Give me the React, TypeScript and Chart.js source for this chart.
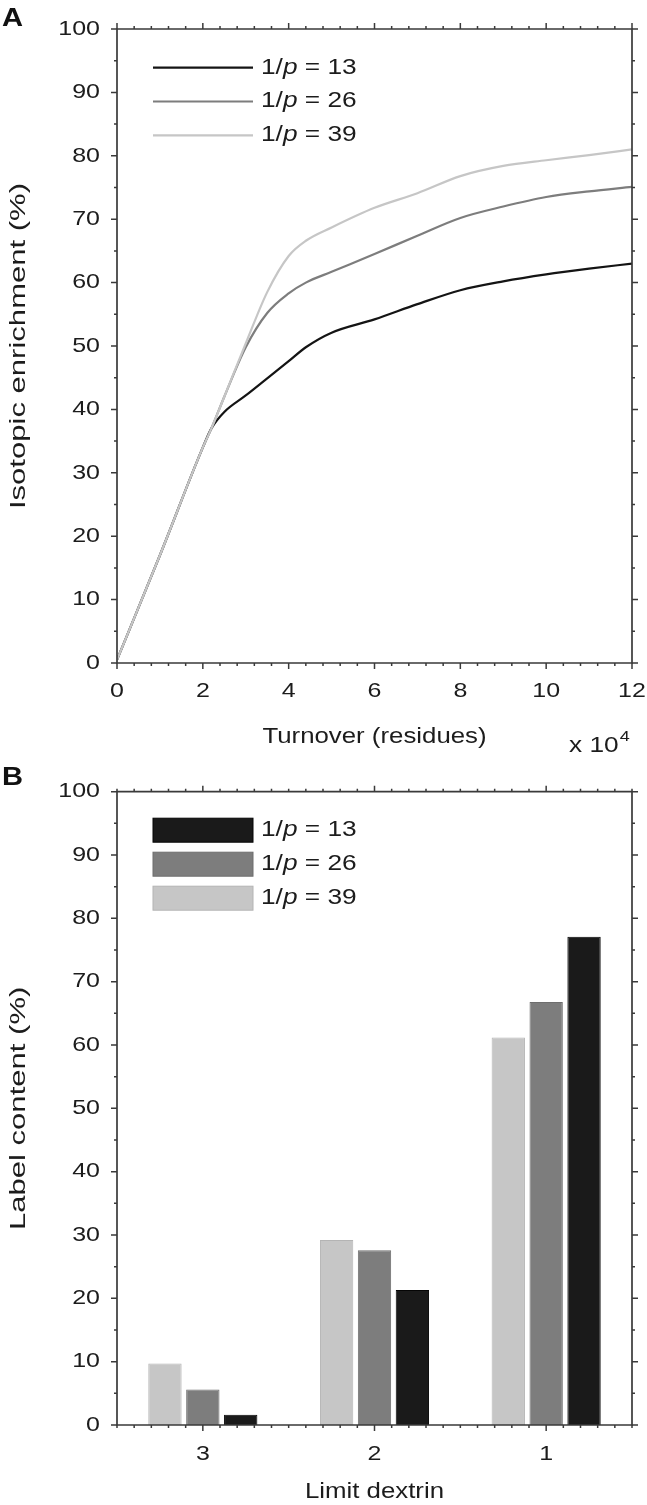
import React, { useEffect, useRef } from 'react';
import { Chart, registerables } from 'chart.js';

Chart.register(...registerables);

// ---------- data ----------
const turnover = [0, 1, 2, 2.2, 2.5, 3, 3.5, 4, 4.4, 5, 6, 7, 8, 9, 10, 11, 12];
const enrichment13 = [0.5, 17, 34, 37, 39.6, 42.2, 44.9, 47.6, 49.8, 52.1, 54.2, 56.6, 58.8, 60.2, 61.3, 62.2, 63];
const enrichment26 = [0.5, 17, 34, 37, 42, 49.8, 55.2, 58.3, 60, 61.7, 64.5, 67.4, 70.2, 72, 73.5, 74.4, 75.1];
const enrichment39 = [0.5, 17, 34, 37, 42, 50.4, 58.5, 64.2, 66.6, 68.7, 71.8, 74.1, 76.8, 78.4, 79.3, 80.1, 81];

const dextrinLabels = ['3', '2', '1'];
const content39 = [9.7, 29.2, 61.2];
const content26 = [5.6, 27.6, 66.8];
const content13 = [1.6, 21.3, 77.1];

const inversePValues = ['13', '26', '39'];

// ---------- styling ----------
const PAGE_W = 647;
const FONT = "'Liberation Sans', Arial, Helvetica, sans-serif";
const TEXT = '#1c1c1c';
const AXIS = '#3a3a3a';

const TICK_FS = 21;
const XTITLE_FS = 21.5;
const YTITLE_FS = 22.5;
const LEGEND_FS = 21.2;

// the reference type is wide along the reading direction
const STRETCH: Record<string, number> = {
  '21px': 1.19,
  '21.5px': 1.2,
  '22.5px': 1.38,
  '21.2px': 1.24,
  '26px': 1.12,
  '15px': 1.2,
};

function stretchOf(font: string) {
  const m = font.match(/([\d.]+)px/);
  return (m && STRETCH[m[1] + 'px']) || 1.2;
}

function patchContext(ctx: any) {
  if (ctx.__patched) return;
  ctx.__patched = true;
  const fill = ctx.fillText.bind(ctx);
  const measure = ctx.measureText.bind(ctx);
  ctx.fillText = (text: string, x: number, y: number) => {
    const k = stretchOf(ctx.font);
    ctx.save();
    ctx.translate(x, y);
    ctx.scale(k, 1);
    fill(text, 0, 0);
    ctx.restore();
  };
  ctx.measureText = (text: string) => {
    const m = measure(text);
    const k = stretchOf(ctx.font);
    return {
      width: m.width * k,
      actualBoundingBoxAscent: m.actualBoundingBoxAscent,
      actualBoundingBoxDescent: m.actualBoundingBoxDescent,
      actualBoundingBoxLeft: m.actualBoundingBoxLeft * k,
      actualBoundingBoxRight: m.actualBoundingBoxRight * k,
      fontBoundingBoxAscent: m.fontBoundingBoxAscent,
      fontBoundingBoxDescent: m.fontBoundingBoxDescent,
    };
  };
}

const BLACK = '#141414';
const GREY = '#7d7d7d';
const LIGHT = '#c6c6c6';

const PLOT_LEFT = 117;
const PLOT_RIGHT_PAD = PAGE_W - 632;

function stepValues(from: number, to: number, step: number) {
  const n = Math.round((to - from) / step);
  const out: number[] = [];
  for (let i = 0; i <= n; i++) out.push(from + i * step);
  return out;
}

const framePlugin = {
  id: 'frame',
  afterDraw(chart: any, _args: any, opts: any) {
    const { ctx, chartArea } = chart;
    const { left, right, top, bottom } = chartArea;
    const xs = chart.scales.x;
    const ys = chart.scales.y;
    ctx.save();
    ctx.strokeStyle = AXIS;
    ctx.lineWidth = 1.7;
    ctx.beginPath();
    ctx.rect(left, top, right - left, bottom - top);
    ctx.stroke();
    ctx.lineWidth = 1.5;
    ctx.beginPath();
    const vt = (v: number, len: number) => {
      const p = xs.getPixelForValue(v);
      ctx.moveTo(p, bottom);
      ctx.lineTo(p, bottom + len);
      ctx.moveTo(p, top);
      ctx.lineTo(p, top - len);
    };
    const ht = (v: number, len: number) => {
      const p = ys.getPixelForValue(v);
      ctx.moveTo(left, p);
      ctx.lineTo(left - len, p);
      ctx.moveTo(right, p);
      ctx.lineTo(right + len, p);
    };
    xs.ticks.forEach((t: any) => vt(t.value, 6));
    stepValues(opts.xMinorFrom, opts.xMinorTo, opts.xMinorStep).forEach((v) => vt(v, 3));
    ys.ticks.forEach((t: any) => ht(t.value, 6));
    stepValues(ys.min, ys.max, opts.yMinorStep).forEach((v) => ht(v, 3));
    ctx.stroke();
    ctx.restore();
  },
};

const legendPlugin = {
  id: 'innerLegend',
  afterDraw(chart: any, _args: any, opts: any) {
    const { ctx, chartArea } = chart;
    ctx.save();
    opts.order.forEach((dsIndex: number, i: number) => {
      const ds = chart.data.datasets[dsIndex];
      const cy = chartArea.top + opts.firstY + i * opts.gap;
      const x0 = chartArea.left + opts.dx;
      if (opts.kind === 'line') {
        ctx.strokeStyle = ds.borderColor;
        ctx.lineWidth = ds.borderWidth;
        ctx.beginPath();
        ctx.moveTo(x0, cy);
        ctx.lineTo(x0 + opts.w, cy);
        ctx.stroke();
      } else {
        ctx.fillStyle = ds.backgroundColor;
        ctx.fillRect(x0, cy - opts.h / 2, opts.w, opts.h);
        ctx.strokeStyle = ds.borderColor;
        ctx.lineWidth = 1;
        ctx.strokeRect(x0, cy - opts.h / 2, opts.w, opts.h);
      }
      let tx = x0 + opts.w + opts.textGap;
      ctx.fillStyle = TEXT;
      ctx.textBaseline = 'middle';
      ctx.textAlign = 'left';
      ctx.font = `${LEGEND_FS}px ${FONT}`;
      ctx.fillText('1/', tx, cy);
      tx += ctx.measureText('1/').width;
      ctx.font = `italic ${LEGEND_FS}px ${FONT}`;
      ctx.fillText('p', tx, cy);
      tx += ctx.measureText('p').width;
      ctx.font = `${LEGEND_FS}px ${FONT}`;
      ctx.fillText(' = ' + inversePValues[i], tx, cy);
    });
    ctx.restore();
  },
};

const annotPlugin = {
  id: 'annot',
  afterDraw(chart: any, _args: any, opts: any) {
    const { ctx } = chart;
    ctx.save();
    ctx.fillStyle = '#111';
    ctx.textBaseline = 'middle';
    ctx.textAlign = 'left';
    ctx.font = `bold 26px ${FONT}`;
    ctx.fillText(opts.letter, opts.letterX, opts.letterY);
    if (opts.exponent) {
      ctx.fillStyle = TEXT;
      ctx.font = `${LEGEND_FS}px ${FONT}`;
      ctx.fillText('x 10', opts.expX, opts.expY);
      const w = ctx.measureText('x 10').width;
      ctx.font = `15px ${FONT}`;
      ctx.fillText('4', opts.expX + w + 1, opts.expY - 9);
    }
    ctx.restore();
  },
};

function yAxis(title: string) {
  return {
    min: 0,
    max: 100,
    afterFit: (s: any) => {
      s.width = PLOT_LEFT;
      s.paddingTop = 0;
      s.paddingBottom = 0;
    },
    grid: { display: false, drawTicks: false },
    border: { display: false },
    ticks: { stepSize: 10, color: TEXT, font: { family: FONT, size: TICK_FS }, padding: 17 },
    title: {
      display: true,
      text: title,
      color: TEXT,
      font: { family: FONT, size: YTITLE_FS },
      padding: { top: 19 - (YTITLE_FS * 1.2) / 2, bottom: 0 },
    },
  };
}

function ChartCanvas({ height, top, makeConfig }: { height: number; top: number; makeConfig: () => any }) {
  const ref = useRef<HTMLCanvasElement | null>(null);
  useEffect(() => {
    const canvas = ref.current;
    if (!canvas) return;
    const ctx = canvas.getContext('2d');
    patchContext(ctx);
    const chart = new Chart(canvas, makeConfig());
    return () => chart.destroy();
  }, []);
  return (
    <canvas
      ref={ref}
      width={PAGE_W}
      height={height}
      style={{ position: 'absolute', left: 0, top, width: PAGE_W + 'px', height: height + 'px', display: 'block' }}
    />
  );
}

const A_H = 760;
const A_TOP = 29;
const A_BOTTOM = 663;

function lineConfig() {
  const mk = (label: string, ys: number[], color: string) => ({
    label,
    data: turnover.map((x, i) => ({ x, y: ys[i] })),
    borderColor: color,
    backgroundColor: color,
    borderWidth: 2.2,
    pointRadius: 0,
    cubicInterpolationMode: 'monotone',
    fill: false,
  });
  return {
    type: 'line',
    data: {
      datasets: [
        mk('1/p = 39', enrichment39, LIGHT),
        mk('1/p = 26', enrichment26, GREY),
        mk('1/p = 13', enrichment13, BLACK),
      ],
    },
    options: {
      responsive: false,
      animation: false,
      layout: { padding: { left: 0, right: PLOT_RIGHT_PAD, top: A_TOP, bottom: 0 } },
      plugins: {
        legend: { display: false },
        tooltip: { enabled: false },
        frame: { xMinorFrom: 0, xMinorTo: 12, xMinorStep: 0.4, yMinorStep: 5 },
        innerLegend: { kind: 'line', order: [2, 1, 0], firstY: 38.7, gap: 33.8, dx: 153 - PLOT_LEFT, w: 100, textGap: 8 },
        annot: { letter: 'A', letterX: 2, letterY: 19, exponent: true, expX: 569, expY: 746 },
      },
      scales: {
        x: {
          type: 'linear',
          min: 0,
          max: 12,
          afterFit: (s: any) => {
            s.height = A_H - A_BOTTOM;
            s.paddingLeft = 0;
            s.paddingRight = 0;
          },
          grid: { display: false, drawTicks: false },
          border: { display: false },
          ticks: { stepSize: 2, color: TEXT, font: { family: FONT, size: TICK_FS }, padding: 15.4, maxRotation: 0 },
          title: {
            display: true,
            text: 'Turnover (residues)',
            color: TEXT,
            font: { family: FONT, size: XTITLE_FS },
            padding: { top: 0, bottom: A_H - 737 - (XTITLE_FS * 1.2) / 2 },
          },
        },
        y: yAxis('Isotopic enrichment (%)'),
      },
    },
    plugins: [framePlugin, legendPlugin, annotPlugin],
  };
}

const B_PAGE_TOP = 760;
const B_H = 1505 - B_PAGE_TOP;
const B_TOP = 791.7 - B_PAGE_TOP;
const B_BOTTOM = 1425 - B_PAGE_TOP;

function barConfig() {
  const mk = (label: string, data: number[], color: string, border: string) => ({
    label,
    data,
    backgroundColor: color,
    borderColor: border,
    borderWidth: 1,
  });
  return {
    type: 'bar',
    data: {
      labels: dextrinLabels,
      datasets: [
        mk('1/p = 39', content39, LIGHT, '#b4b4b4'),
        mk('1/p = 26', content26, GREY, '#6e6e6e'),
        mk('1/p = 13', content13, '#1a1a1a', '#050505'),
      ],
    },
    options: {
      responsive: false,
      animation: false,
      layout: { padding: { left: 0, right: PLOT_RIGHT_PAD, top: B_TOP, bottom: 0 } },
      datasets: { bar: { categoryPercentage: 0.662, barPercentage: 0.88 } },
      plugins: {
        legend: { display: false },
        tooltip: { enabled: false },
        frame: { xMinorFrom: -0.5, xMinorTo: 2.5, xMinorStep: 0.1, yMinorStep: 5 },
        innerLegend: { kind: 'box', order: [2, 1, 0], firstY: 38.5, gap: 34, dx: 153 - PLOT_LEFT, w: 100, h: 24, textGap: 8 },
        annot: { letter: 'B', letterX: 2, letterY: 778 - B_PAGE_TOP, exponent: false },
      },
      scales: {
        x: {
          type: 'category',
          afterFit: (s: any) => {
            s.height = B_H - B_BOTTOM;
            s.paddingLeft = 0;
            s.paddingRight = 0;
          },
          grid: { display: false, drawTicks: false },
          border: { display: false },
          ticks: { color: TEXT, font: { family: FONT, size: TICK_FS }, padding: 16.4, maxRotation: 0 },
          title: {
            display: true,
            text: 'Limit dextrin',
            color: TEXT,
            font: { family: FONT, size: XTITLE_FS },
            padding: { top: 0, bottom: 0 },
          },
        },
        y: yAxis('Label content (%)'),
      },
    },
    plugins: [framePlugin, legendPlugin, annotPlugin],
  };
}

export default function App() {
  return (
    <div style={{ position: 'absolute', left: 0, top: 0, width: PAGE_W, height: 1505, background: '#fff' }}>
      <ChartCanvas height={A_H} top={0} makeConfig={lineConfig} />
      <ChartCanvas height={B_H} top={B_PAGE_TOP} makeConfig={barConfig} />
    </div>
  );
}
